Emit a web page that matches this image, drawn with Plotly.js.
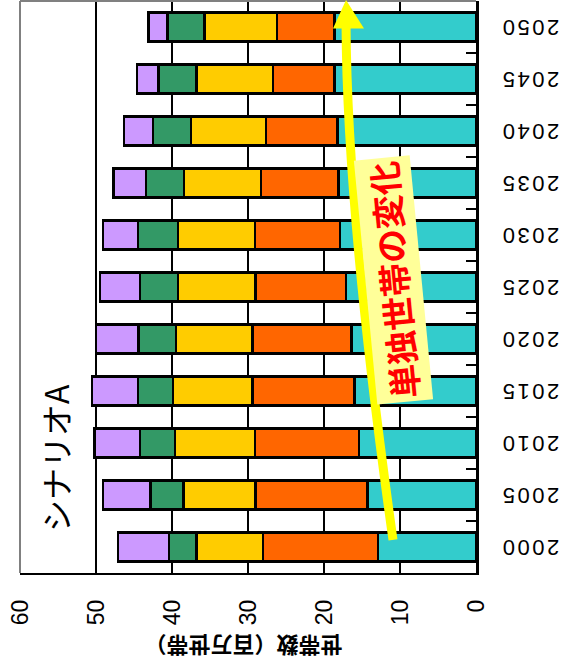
<!DOCTYPE html>
<html>
<head>
<meta charset="utf-8">
<script src="https://cdn.plot.ly/plotly-3.0.1.min.js"></script>
<style>
  html, body { margin: 0; padding: 0; background: #ffffff; overflow: hidden; }
  body { width: 563px; height: 667px; position: relative; }
  /* the column chart is laid out 667x563 and turned a quarter turn counter-clockwise */
  #chart {
    position: absolute; left: 0; top: 0;
    width: 667px; height: 563px;
    transform-origin: 0 0;
    transform: translate(0px, 667px) rotate(-90deg);
  }
  /* year labels are set a little wider apart */
  #chart .xtick text { letter-spacing: 2.5px; }
</style>
</head>
<body>
<div id="chart"></div>
<script>
// 世帯数（百万世帯）, シナリオA
const years = ['2000', '2005', '2010', '2015', '2020', '2025', '2030', '2035', '2040', '2045', '2050'];
const tandoku   = [12.9, 14.3, 15.4, 16.0, 16.4, 17.1, 17.9, 18.1, 18.2, 18.6, 18.6]; // 単独世帯
const fuufuKo   = [15.1, 14.7, 13.7, 13.4, 13.0, 11.9, 11.2, 10.2, 9.4, 8.1, 7.6];    // 夫婦と子
const fuufuNomi = [8.8, 9.5, 10.5, 10.5, 10.1, 10.2, 10.1, 10.1, 9.9, 10.1, 9.5];    // 夫婦のみ
const hitorioya = [3.6, 4.3, 4.6, 4.6, 4.9, 5.0, 5.3, 5.0, 5.0, 5.0, 4.9];          // ひとり親と子
const sonota    = [6.7, 6.3, 6.0, 6.0, 5.6, 5.3, 4.6, 4.3, 3.8, 2.8, 2.5];          // その他

const seriesNames  = ['単独', '夫婦と子', '夫婦のみ', 'ひとり親と子', 'その他'];
const seriesValues = [tandoku, fuufuKo, fuufuNomi, hitorioya, sonota];
const seriesColors = ['#33CCCC', '#FF6600', '#FFCC00', '#339966', '#CC99FF'];

const traces = seriesValues.map((vals, i) => ({
  type: 'bar',
  name: seriesNames[i],
  x: years,
  y: vals,
  marker: { color: seriesColors[i], line: { color: '#000000', width: 2.5 } },
  hoverinfo: 'skip'
}));

const jp = '"Noto Sans CJK JP", "Noto Sans", sans-serif';

const layout = {
  width: 667,
  height: 563,
  margin: { l: 94, r: 1, t: 20, b: 87, pad: 0 },
  paper_bgcolor: '#ffffff',
  plot_bgcolor: '#ffffff',
  barmode: 'stack',
  bargap: 0.45,
  showlegend: false,
  xaxis: {
    type: 'category',
    tickangle: -90,
    tickfont: { family: '"Liberation Sans", Arial, sans-serif', size: 22, color: '#000000' },
    showline: true, linecolor: '#000000', linewidth: 2.5,
    ticks: 'inside', tickson: 'boundaries', ticklen: 10, tickwidth: 2, tickcolor: '#000000',
    showgrid: false,
    ticklabelstandoff: 13,
    fixedrange: true
  },
  yaxis: {
    range: [0, 60],
    dtick: 10,
    tickfont: { family: '"Liberation Sans", Arial, sans-serif', size: 23, color: '#000000' },
    showline: true, linecolor: '#000000', linewidth: 2,
    ticks: 'inside', ticklen: 8, tickwidth: 2, tickcolor: '#000000',
    showgrid: true, gridcolor: '#000000', gridwidth: 2,
    zeroline: false,
    ticklabelstandoff: 20,
    fixedrange: true
  },
  shapes: [
    // plot frame, top and right
    { type: 'line', xref: 'paper', yref: 'paper', x0: 0, x1: 1, y0: 1, y1: 1,
      line: { color: '#808080', width: 2 }, layer: 'above' },
    { type: 'line', xref: 'paper', yref: 'paper', x0: 1, x1: 1, y0: 0, y1: 1,
      line: { color: '#808080', width: 2 }, layer: 'above' },
    // curved yellow arrow: shaft
    { type: 'path', xref: 'paper', yref: 'paper', layer: 'above',
      path: 'M 0.0577 0.182 Q 0.63 0.283 0.958 0.285',
      line: { color: '#FFFF00', width: 9 }, fillcolor: 'rgba(0,0,0,0)' },
    // arrow head
    { type: 'path', xref: 'paper', yref: 'paper', layer: 'above',
      path: 'M 0.9518 0.3136 L 1.0017 0.285 L 0.9518 0.2456 Z',
      line: { color: '#FFFF00', width: 0 }, fillcolor: '#FFFF00' }
  ],
  annotations: [
    { xref: 'paper', yref: 'paper', x: 0.201, y: 0.923, xanchor: 'center', yanchor: 'middle',
      text: 'シナリオA', showarrow: false,
      font: { family: jp, size: 32, color: '#000000' } },
    { xref: 'paper', yref: 'paper', x: 0.512, y: 0.182, xanchor: 'center', yanchor: 'middle',
      text: '単独世帯の変化', showarrow: false, textangle: -5.5,
      bgcolor: '#FFFF99', borderpad: 3,
      font: { family: jp, size: 34, color: '#FF0000', weight: 700 } },
    { xref: 'paper', yref: 'paper', x: -0.13, y: 0.509, xanchor: 'center', yanchor: 'middle',
      text: '世帯数（百万世帯）', showarrow: false, textangle: -90,
      font: { family: jp, size: 22, color: '#000000', weight: 700 } }
  ]
};

Plotly.newPlot('chart', traces, layout, { staticPlot: true, displayModeBar: false });
</script>
</body>
</html>
